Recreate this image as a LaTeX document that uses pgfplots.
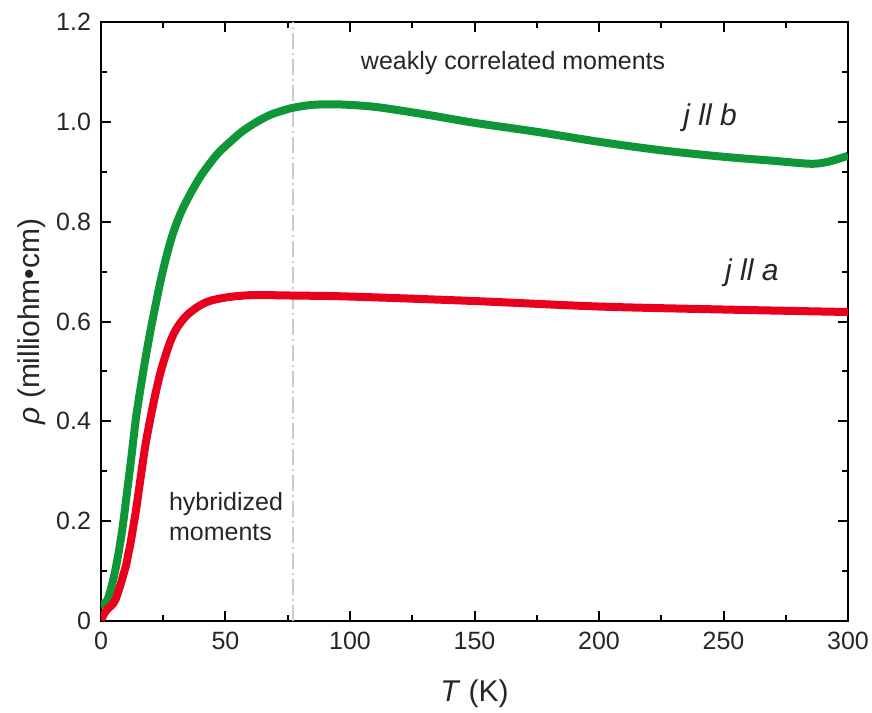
\documentclass[border=0pt]{standalone}
\usepackage{pgfplots}
\pgfplotsset{compat=1.18}
\usepackage{fontspec}
\setmainfont{Liberation Sans}
\definecolor{cgreen}{RGB}{14,150,56}
\definecolor{cred}{RGB}{232,0,28}
\definecolor{cgray}{RGB}{200,208,204}
\begin{document}
\begin{tikzpicture}
\begin{axis}[
  width=373.5pt, height=299.5pt, scale only axis,
  xmin=0, xmax=300, ymin=0, ymax=1.2,
  xtick={0,50,100,150,200,250,300},
  minor xtick={25,75,125,175,225,275},
  ytick={0,0.2,0.4,0.6,0.8,1.0,1.2},
  yticklabels={0,0.2,0.4,0.6,0.8,1.0,1.2},
  minor ytick={0.1,0.3,0.5,0.7,0.9,1.1},
  tick align=inside,
  major tick length=5pt, minor tick length=2.8pt,
  every tick/.style={black, line width=1pt},
  axis line style={line width=1pt},
  /pgf/number format/assume math mode=true,
  tick label style={font=\fontsize{12.5}{14}\selectfont, text=black!85},
  xticklabel style={yshift=-2pt},
  yticklabel style={xshift=-1.5pt},
  xlabel={\textit{T} (K)},
  ylabel={\textit{ρ} (milliohm•cm)},
  label style={font=\fontsize{15}{17}\selectfont, text=black!85},
  xlabel style={yshift=-8pt},
  ylabel style={yshift=-1.5pt},
  clip=true,
]
\addplot[cgray, line width=1pt, dash pattern=on 8pt off 2pt on 1pt off 2pt] coordinates {(77.1,0) (77.1,1.2)};
\addplot[cgreen, line width=4pt, line join=round, smooth, tension=0.5] coordinates {
(0,0.033)(1,0.034)(2,0.038)(3,0.048)(4,0.065)(5,0.085)(6,0.108)(7,0.135)(8,0.165)(9,0.2)(10,0.24)(12,0.32)(14,0.405)(16,0.47)(18,0.53)(20,0.585)(22,0.635)(24,0.683)(26,0.725)(28,0.762)(30,0.792)(32,0.817)(34,0.838)(37,0.866)(40,0.891)(43,0.912)(47,0.937)(51,0.956)(56,0.978)(60,0.992)(64,1.004)(68,1.014)(72,1.021)(77,1.028)(85,1.034)(95,1.035)(110,1.03)(130,1.015)(150,0.998)(175,0.98)(200,0.96)(225,0.943)(250,0.93)(270,0.922)(285,0.916)(292,0.92)(300,0.932)
};
\addplot[cred, line width=4pt, line join=round, smooth, tension=0.5] coordinates {
(0,0.002)(1,0.012)(2,0.02)(3,0.026)(4,0.03)(5,0.036)(6,0.045)(7,0.06)(8,0.075)(9,0.093)(10,0.11)(11,0.135)(12,0.16)(13,0.19)(14,0.22)(15,0.255)(16,0.29)(17,0.325)(18,0.357)(20,0.41)(22,0.458)(24,0.5)(26,0.533)(28,0.562)(30,0.583)(32,0.598)(34,0.61)(36,0.619)(39,0.63)(42,0.638)(45,0.643)(50,0.648)(55,0.651)(62,0.653)(77,0.652)(100,0.65)(150,0.641)(200,0.63)(250,0.624)(300,0.619)
};
\node[font=\fontsize{12.5}{14}\selectfont, text=black!85] at (axis cs:165.5,1.118) {weakly correlated moments};
\node[font=\fontsize{15}{17}\selectfont\itshape, text=black!85] at (axis cs:244.6,1.008) {j ll b};
\node[font=\fontsize{15}{17}\selectfont\itshape, text=black!85] at (axis cs:261.4,0.697) {j ll a};
\node[font=\fontsize{12.5}{15}\selectfont, text=black!85, align=left, anchor=west] at (axis cs:24.5,0.21) {hybridized\\moments};
\end{axis}
\pgfresetboundingbox
\path (current axis.south west) ++(-50.5pt,-45.5pt) coordinate (bbA);
\path (current axis.north east) ++(12pt,11pt) coordinate (bbB);
\useasboundingbox (bbA) rectangle (bbB);
\end{tikzpicture}
\end{document}
